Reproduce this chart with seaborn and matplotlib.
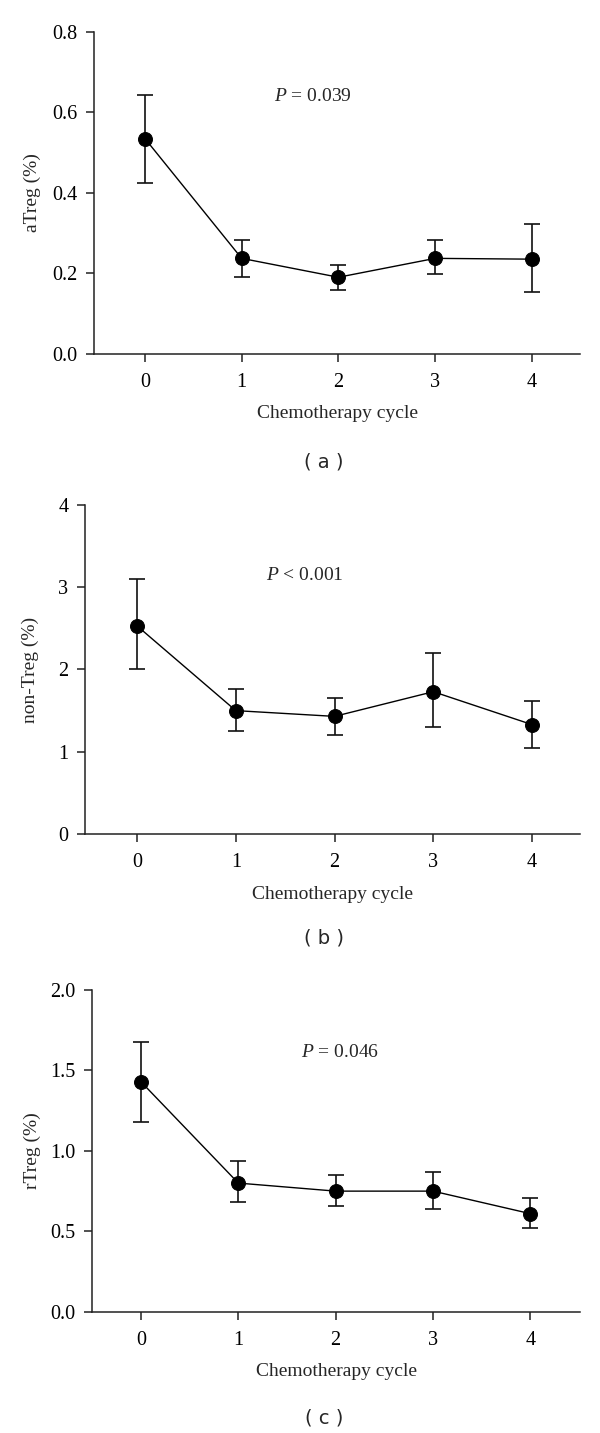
import matplotlib
matplotlib.use("Agg")
import matplotlib.pyplot as plt
import seaborn as sns
import numpy as np
import pandas as pd

cycles = [0, 1, 2, 3, 4]

atreg_mean = [0.535, 0.237, 0.190, 0.237, 0.235]
atreg_upper = [0.643, 0.282, 0.221, 0.282, 0.322]
atreg_lower = [0.424, 0.190, 0.158, 0.197, 0.153]

nontreg_mean = [2.53, 1.50, 1.43, 1.73, 1.33]
nontreg_upper = [3.10, 1.76, 1.65, 2.20, 1.62]
nontreg_lower = [2.00, 1.25, 1.20, 1.30, 1.05]

rtreg_mean = [1.43, 0.80, 0.75, 0.75, 0.61]
rtreg_upper = [1.68, 0.94, 0.85, 0.87, 0.71]
rtreg_lower = [1.18, 0.68, 0.66, 0.64, 0.52]

ylabels = ["aTreg (%)", "non-Treg (%)", "rTreg (%)"]
p_labels = ["$\\it{P}$ = 0.039", "$\\it{P}$ < 0.001", "$\\it{P}$ = 0.046"]
panel_tags = ["( a )", "( b )", "( c )"]
yticks_list = [[0.0, 0.2, 0.4, 0.6, 0.8], [0, 1, 2, 3, 4], [0.0, 0.5, 1.0, 1.5, 2.0]]
yfmt = ["{:.1f}", "{:.0f}", "{:.1f}"]

sns.set_theme(style="ticks")
plt.rcParams["font.family"] = ["Liberation Serif", "DejaVu Serif"]
plt.rcParams["mathtext.fontset"] = "custom"
plt.rcParams["mathtext.it"] = "Liberation Serif:italic"
plt.rcParams["mathtext.rm"] = "Liberation Serif"

fig = plt.figure(figsize=(6.0, 14.33), dpi=100)

# axes rectangles [left, bottom, width, height] in figure fraction
rects = [
    [0.157, 0.7532, 0.8095, 0.2245],
    [0.1417, 0.418, 0.825, 0.2296],
    [0.1538, 0.0846, 0.8128, 0.2245],
]
xlims = [(-0.524, 4.496), (-0.527, 4.486), (-0.50, 4.51)]
p_pos = [(1.74, 0.64), (1.70, 3.14), (2.05, 1.61)]
tag_y = [1 - 462 / 1433, 1 - 938 / 1433, 1 - 1418 / 1433]
ylabel_pads = [8, 14, 7]

datasets = [
    (atreg_mean, atreg_lower, atreg_upper),
    (nontreg_mean, nontreg_lower, nontreg_upper),
    (rtreg_mean, rtreg_lower, rtreg_upper),
]

spine_col = "#222222"
for i, (mean, lower, upper) in enumerate(datasets):
    ax = fig.add_axes(rects[i])
    df = pd.DataFrame({"cycle": cycles, "value": mean})
    yerr = np.array([np.array(mean) - np.array(lower), np.array(upper) - np.array(mean)])
    ax.errorbar(cycles, mean, yerr=yerr, fmt="none", ecolor="#111111",
                elinewidth=1.2, capsize=6, capthick=1.2, zorder=2)
    sns.lineplot(data=df, x="cycle", y="value", ax=ax, color="black",
                 linewidth=1.0, marker="o", markersize=10,
                 markeredgecolor="black", markerfacecolor="black", zorder=3)
    ax.set_xlim(*xlims[i])
    yt = yticks_list[i]
    ax.set_ylim(yt[0], yt[-1])
    ax.set_xticks(cycles)
    ax.set_xticklabels([str(c) for c in cycles])
    ax.set_yticks(yt)
    ax.set_yticklabels([yfmt[i].format(v) for v in yt])
    for s in ["top", "right"]:
        ax.spines[s].set_visible(False)
    for s in ["left", "bottom"]:
        ax.spines[s].set_color(spine_col)
        ax.spines[s].set_linewidth(1.1)
    ax.tick_params(axis="both", direction="out", length=6, width=1.1,
                   color=spine_col, labelsize=14.5, pad=6, labelcolor="black")
    ax.tick_params(axis="x", pad=8)
    ax.set_xlabel("Chemotherapy cycle", fontsize=14, labelpad=9.5)
    ax.set_ylabel(ylabels[i], fontsize=14, labelpad=ylabel_pads[i])
    ax.text(p_pos[i][0], p_pos[i][1], p_labels[i], fontsize=14,
            ha="center", va="center")
    ax.grid(False)
    fig.text(0.54, tag_y[i], panel_tags[i], fontsize=14, ha="center",
             va="center", family=["DejaVu Sans"])

fig.savefig("out.png", dpi=100, facecolor="white")
